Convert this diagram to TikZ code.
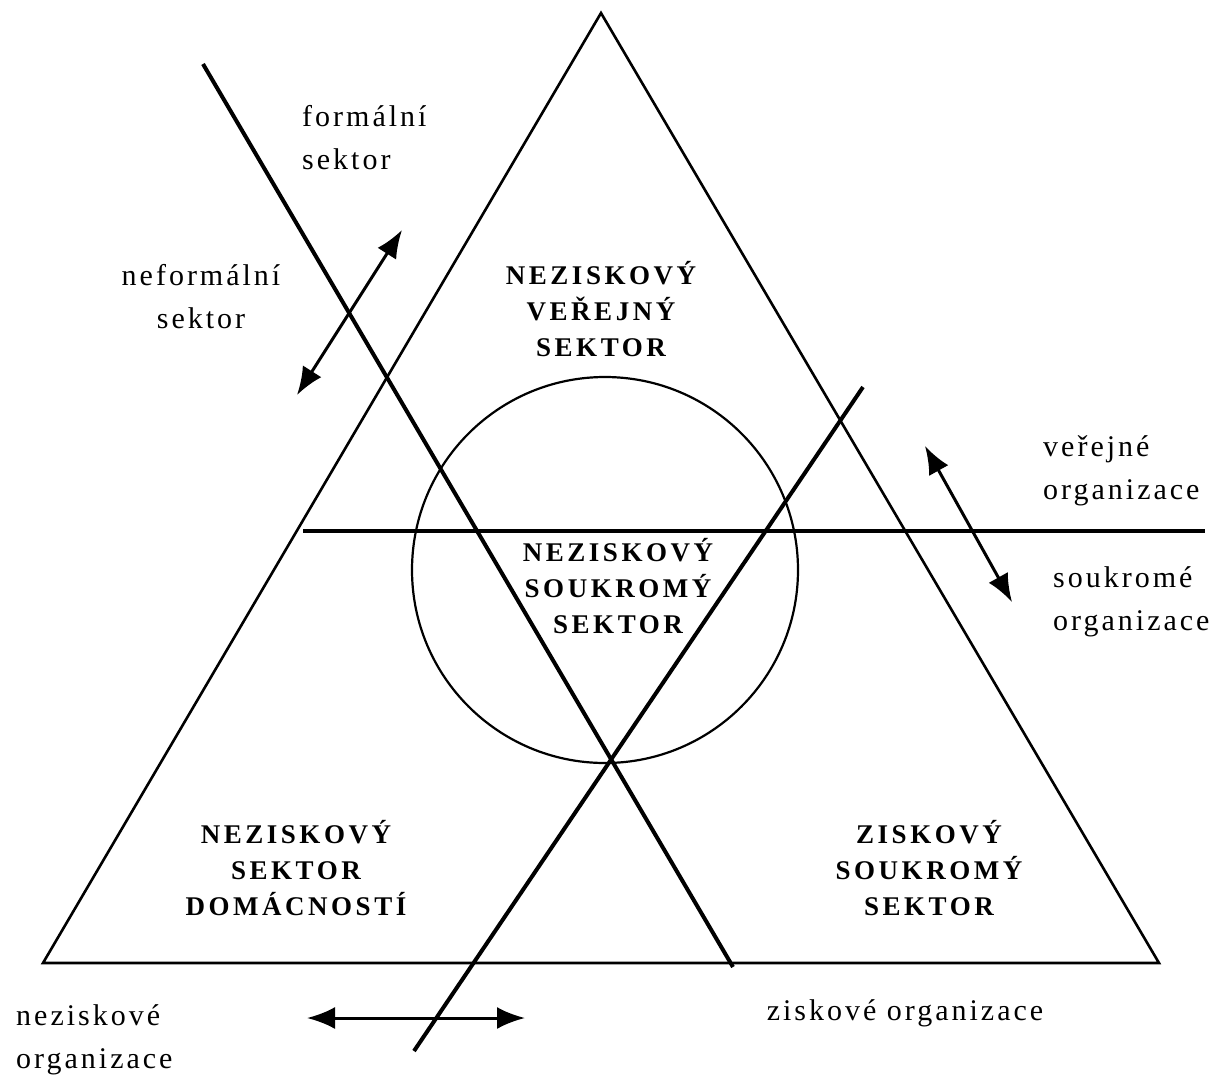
\documentclass[tikz,border=0pt]{standalone}
\usepackage{fontspec}
\setmainfont{Liberation Serif}
\newfontfamily\lblfont[LetterSpace=10]{Liberation Serif}
\newfontfamily\capsfont[LetterSpace=13]{Liberation Serif}
\usetikzlibrary{arrows.meta}
\usetikzlibrary{positioning}
\tikzstyle{framestyle}=[draw, line width=2.6pt, line join=miter]
\tikzstyle{cutstyle}=[draw, line width=4pt]
\tikzstyle{ringstyle}=[draw, line width=2.2pt]
\tikzstyle{swapstyle}=[draw, line width=3pt, {Latex[length=28pt,width=22pt]}-{Latex[length=28pt,width=22pt]}]
\tikzstyle{sidelabel}=[inner sep=0pt, font=\fontsize{30}{43}\selectfont\lblfont]
\tikzstyle{sector}=[inner sep=0pt, align=center, font=\fontsize{27}{36}\selectfont\capsfont\bfseries]
\begin{document}
\begin{tikzpicture}[x=1pt, y=-1pt]
\useasboundingbox (0,0) rectangle (1211,1077);
% triangle
\coordinate (top) at (601,13);
\coordinate (left) at (43,963);
\coordinate (right) at (1159,963);
\draw [framestyle] (top) -- (left) -- (right) -- cycle;
% dividing lines
\coordinate (c1a) at (203,64);
\coordinate (c1b) at (733,967);
\coordinate (c2a) at (863,387);
\coordinate (c2b) at (414,1051);
\coordinate (ha) at (303,531);
\coordinate (hb) at (1205,531);
\draw [cutstyle] (c1a) -- (c1b);
\draw [cutstyle] (c2a) -- (c2b);
\draw [cutstyle, line width=3.4pt] (ha) -- (hb);
\node [ringstyle, circle, minimum size=386pt, inner sep=0pt] (ring) at (605,570) {};
% arrows
\coordinate (a1a) at (297,395);
\coordinate (a1b) at (402,230);
\coordinate (a2a) at (925,446);
\coordinate (a2b) at (1012,602);
\coordinate (a3a) at (307,1018);
\coordinate (a3b) at (525,1018);
\draw [swapstyle] (a1a) -- (a1b);
\draw [swapstyle] (a2a) -- (a2b);
\draw [swapstyle] (a3a) -- (a3b);
% sector names
\node [sector] (pubnp) at (601,309) {NEZISKOVÝ\\VEŘEJNÝ\\SEKTOR};
\node [sector] (privnp) at (618,586) {NEZISKOVÝ\\SOUKROMÝ\\SEKTOR};
\node [sector] (homenp) at (296,868) {NEZISKOVÝ\\SEKTOR\\DOMÁCNOSTÍ};
\node [sector] (privp) at (929,868) {ZISKOVÝ\\SOUKROMÝ\\SEKTOR};
% side labels
\node [sidelabel, align=left, anchor=west] (formal) at (302,138) {formální\\sektor};
\node [sidelabel, align=center] (informal) at (201,297) {neformální\\sektor};
\node [sidelabel, align=left, anchor=west] (public) at (1043,471) {veřejné\\organizace};
\node [sidelabel, align=left, anchor=west] (private) at (1053,602) {soukromé\\organizace};
\node [sidelabel, anchor=base] (profit) at (905,1020) {ziskové organizace};
\node [sidelabel, align=left, anchor=west] (nonprofit) at (16,1040) {neziskové\\organizace};
\end{tikzpicture}
\end{document}
